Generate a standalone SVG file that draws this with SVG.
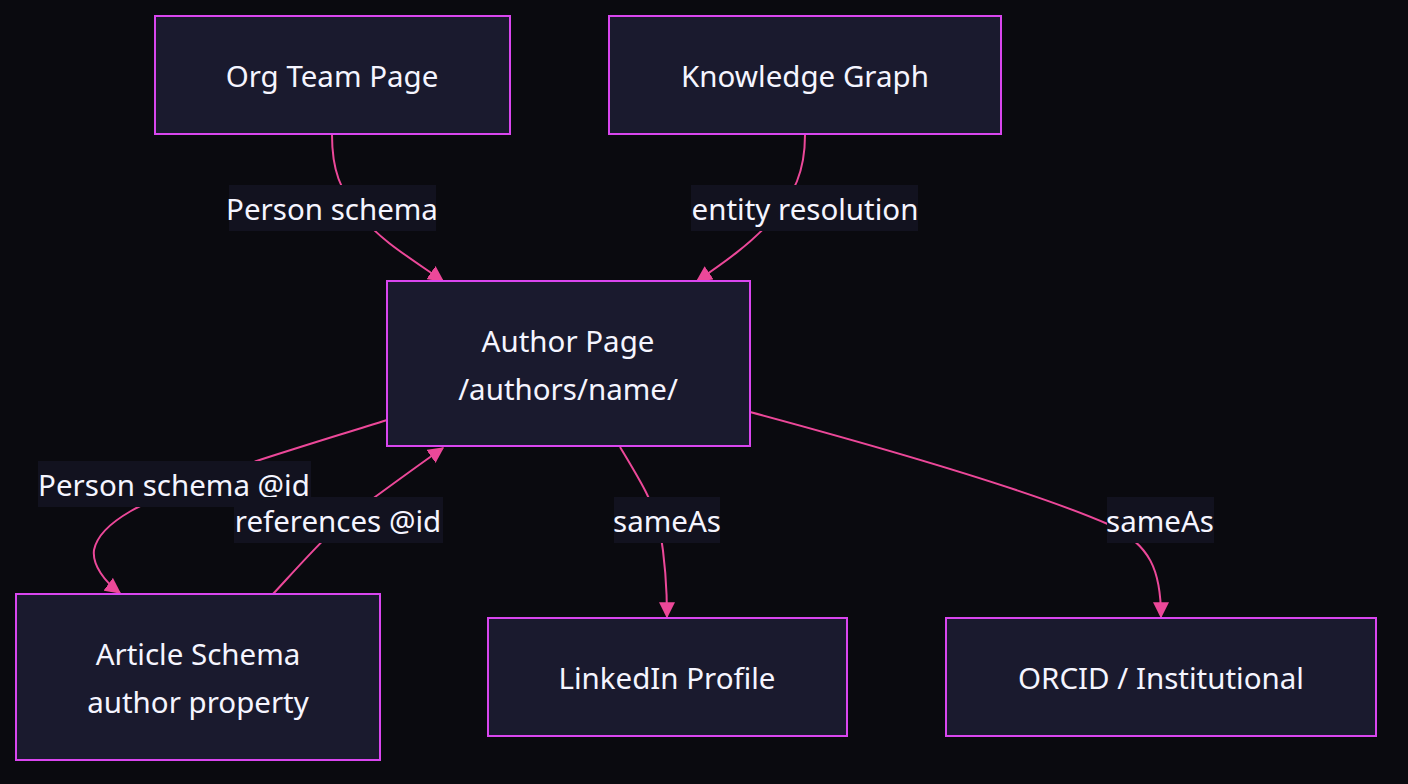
<svg xmlns="http://www.w3.org/2000/svg" width="1408" height="784" viewBox="0 0 1408 784">
<style>
.node rect{fill:#1a1a2e;stroke:#d946ef;stroke-width:2}
text{font-family:"Noto Sans","Open Sans","Liberation Sans",sans-serif;font-size:29.5px;fill:#f5f5ff;text-anchor:middle;dominant-baseline:central}
.edge{fill:none;stroke:#ec4899;stroke-width:2}
.lbl{fill:#12121f}
</style>
<defs>
<marker id="arr" viewBox="0 0 12 12" refX="11" refY="6" markerWidth="16" markerHeight="16" markerUnits="userSpaceOnUse" orient="auto">
<path d="M0,0 L12,6 L0,12 z" fill="#ec4899"/>
</marker>
</defs>
<rect width="1408" height="784" fill="#0a0a0f"/>
<g id="connectors">
<path class="edge" d="M332,135 C332,170 340,190 360,215 C380,240 410,258 443,281" marker-end="url(#arr)"/>
<path class="edge" d="M805,135 C805,170 795,195 770,222 C750,244 725,262 697,281" marker-end="url(#arr)"/>
<path class="edge" d="M387,420 C330,438 250,462 200,480 C150,500 100,520 94,550 C92,565 105,582 120,593" marker-end="url(#arr)"/>
<path class="edge" d="M273,594 C300,565 330,530 360,508 C390,486 420,464 443,448" marker-end="url(#arr)"/>
<path class="edge" d="M620,447 C640,480 655,505 660,530 C665,560 667,590 667,617" marker-end="url(#arr)"/>
<path class="edge" d="M750,412 C880,447 1030,490 1110,525 C1150,545 1161,570 1161,617" marker-end="url(#arr)"/>
<rect class="lbl" x="229" y="185" width="207" height="46"/>
<text x="332" y="208">Person schema</text>
<rect class="lbl" x="691" y="185" width="227" height="46"/>
<text x="805" y="208">entity resolution</text>
<rect class="lbl" x="38" y="461" width="273" height="46"/>
<text x="174" y="484">Person schema @id</text>
<rect class="lbl" x="234" y="497" width="209" height="46"/>
<text x="338" y="520">references @id</text>
<rect class="lbl" x="614" y="497" width="106" height="46"/>
<text x="667" y="520">sameAs</text>
<rect class="lbl" x="1107" y="497" width="107" height="46"/>
<text x="1160" y="520">sameAs</text>
</g>
<g id="org" class="node"><rect x="155" y="16" width="355" height="118"/><text x="332" y="75">Org Team Page</text></g>
<g id="kg" class="node"><rect x="609" y="16" width="392" height="118"/><text x="805" y="75">Knowledge Graph</text></g>
<g id="author" class="node"><rect x="387" y="281" width="363" height="165"/><text x="568" y="340">Author Page</text><text x="568" y="388">/authors/name/</text></g>
<g id="article" class="node"><rect x="16" y="594" width="364" height="166"/><text x="198" y="653">Article Schema</text><text x="198" y="701">author property</text></g>
<g id="linkedin" class="node"><rect x="488" y="618" width="359" height="118"/><text x="667" y="677">LinkedIn Profile</text></g>
<g id="orcid" class="node"><rect x="946" y="618" width="430" height="118"/><text x="1161" y="677">ORCID / Institutional</text></g>
</svg>
